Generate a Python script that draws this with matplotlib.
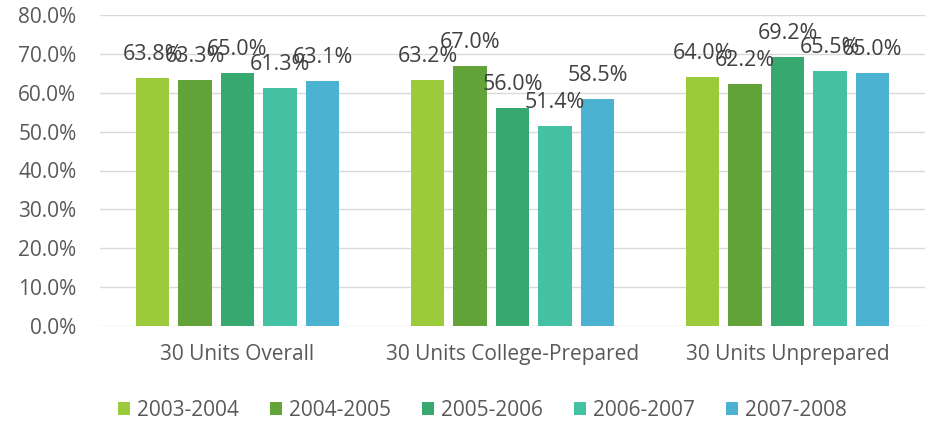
import matplotlib
matplotlib.use("Agg")
import matplotlib.pyplot as plt
import numpy as np

categories = ["30 Units Overall", "30 Units College-Prepared", "30 Units Unprepared"]
series_names = ["2003-2004", "2004-2005", "2005-2006", "2006-2007", "2007-2008"]
values = [
    [63.8, 63.2, 64.0],
    [63.3, 67.0, 62.2],
    [65.0, 56.0, 69.2],
    [61.3, 51.4, 65.5],
    [63.1, 58.5, 65.0],
]
colors = ["#9BCB3B", "#63A43A", "#37A870", "#44C1A3", "#4CB2D1"]
yticks = [0, 10, 20, 30, 40, 50, 60, 70, 80]

plt.rcParams['font.family'] = ['Open Sans', 'DejaVu Sans']
txt = "#595959"
fs = 15

fig = plt.figure(figsize=(9.26, 4.25), dpi=100)
ax = fig.add_axes([100/926, 1-326/425, 825/926, (326-15)/425])

x = np.arange(len(categories))
step = 0.1545
width = 0.122
for i, (name, vals, c) in enumerate(zip(series_names, values, colors)):
    pos = x + (i - 2) * step
    bars = ax.bar(pos, vals, width=width, color=c, label=name, zorder=3)
    for b, v in zip(bars, vals):
        ax.annotate(f"{v:.1f}%", (b.get_x() + b.get_width()/2, v),
                    xytext=(0, 18), textcoords="offset pixels",
                    ha="center", va="baseline", fontsize=15.5, color="#404040", zorder=4)

ax.set_xlim(-0.5, 2.5)
ax.set_ylim(0, 80)
ax.set_yticks(yticks)
ax.set_yticklabels([f"{t:.1f}%" for t in yticks], fontsize=fs, color=txt)
ax.set_xticks(x)
ax.set_xticklabels(categories, fontsize=fs, color=txt)
ax.tick_params(axis='both', length=0)
ax.tick_params(axis='y', pad=17)
ax.tick_params(axis='x', pad=13)
ax.grid(axis='y', color="#D9D9D9", linewidth=1, zorder=0)
for s in ax.spines.values():
    s.set_visible(False)

fig.legend(loc="center", ncol=5, bbox_to_anchor=(0.521, 0.035), frameon=False,
           fontsize=fs, handlelength=0.58, handleheight=0.58, columnspacing=1.5,
           handletextpad=0.33, labelcolor=txt)

fig.savefig("out.png", dpi=100)
